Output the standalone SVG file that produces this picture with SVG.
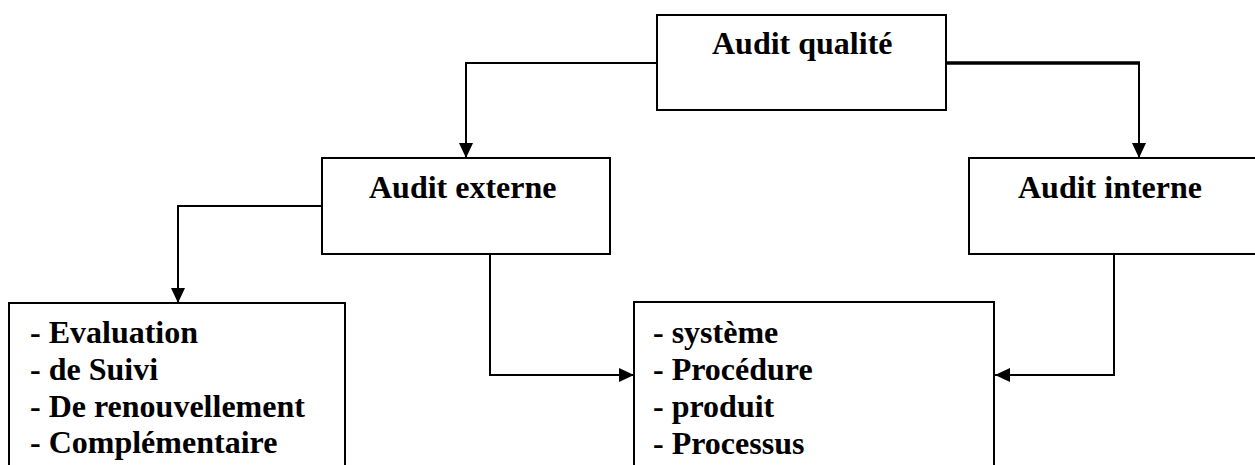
<svg xmlns="http://www.w3.org/2000/svg" width="1255" height="465" viewBox="0 0 1255 465">
<style>
.box{fill:#fff;stroke:#000;stroke-width:2}
.lbl{font-family:"Liberation Serif","Times New Roman",serif;font-weight:bold;font-size:32px;fill:#000}
.con{fill:none;stroke:#000;stroke-width:2}
.thick{fill:none;stroke:#000;stroke-width:3.5}
</style>
<defs>
<marker id="ah" viewBox="0 0 15 14" refX="15" refY="7" markerWidth="15" markerHeight="14" markerUnits="userSpaceOnUse" orient="auto">
<path d="M0,0 L15,7 L0,14 z" fill="#000"/>
</marker>
</defs>
<rect width="1255" height="465" fill="#fff"/>
<g id="connectors">
<path class="con" d="M657,63 H466 V158" marker-end="url(#ah)"/>
<path class="thick" d="M946,63 H1140"/>
<path class="con" d="M1139,63 V158" marker-end="url(#ah)"/>
<path class="con" d="M322,206 H178 V303" marker-end="url(#ah)"/>
<path class="con" d="M490,255 V375 H634" marker-end="url(#ah)"/>
<path class="con" d="M1114,254 V375 H995" marker-end="url(#ah)"/>
</g>
<g id="audit-qualite">
<rect class="box" x="657" y="15" width="289" height="95"/>
<text class="lbl" x="712" y="54">Audit qualité</text>
</g>
<g id="audit-externe">
<rect class="box" x="322" y="158" width="288" height="96"/>
<text class="lbl" x="369" y="198">Audit externe</text>
</g>
<g id="audit-interne">
<rect class="box" x="969" y="158" width="300" height="96"/>
<text class="lbl" x="1018" y="198">Audit interne</text>
</g>
<g id="types-audit">
<rect class="box" x="9" y="303" width="336" height="180"/>
<text class="lbl" x="30" y="343">- Evaluation</text>
<text class="lbl" x="30" y="380">- de Suivi</text>
<text class="lbl" x="30" y="417">- De renouvellement</text>
<text class="lbl" x="30" y="453">- Complémentaire</text>
</g>
<g id="objets-audit">
<rect class="box" x="634" y="302" width="360" height="180"/>
<text class="lbl" x="653" y="343">- système</text>
<text class="lbl" x="653" y="380">- Procédure</text>
<text class="lbl" x="653" y="417">- produit</text>
<text class="lbl" x="653" y="454">- Processus</text>
</g>
</svg>
